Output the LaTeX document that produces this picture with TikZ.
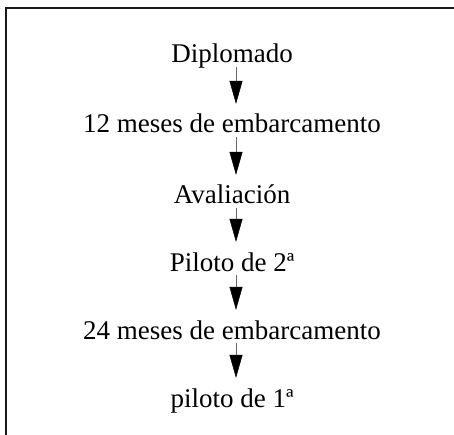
\documentclass[tikz,border=0pt]{standalone}
\usepackage{fontspec}
\setmainfont{Liberation Serif}
\usetikzlibrary{arrows.meta}
\tikzset{
  lbl/.style={inner sep=0pt, anchor=base, text height=18pt, text depth=4pt, font=\fontsize{27}{30}\selectfont},
  arr/.style={line width=0.5pt, draw=black!60, -{Triangle[length=23pt,width=13pt,fill=black,color=black]}, shorten >=11pt},
  frame/.style={line width=2pt, draw=black!90}
}
\begin{document}
\begin{tikzpicture}[x=1pt,y=-1pt]
\useasboundingbox (0,0) rectangle (454,435);
\draw[frame] (5.5,435) -- (5.5,8.5) -- (454,8.5);
\node[lbl] (d)  at (232,63)  {Diplomado};
\node[lbl] (m12) at (232,133) {12 meses de embarcamento};
\node[lbl] (av) at (232,204) {Avaliación};
\node[lbl] (p2) at (232,271) {Piloto de 2ª};
\node[lbl] (m24) at (232,339) {24 meses de embarcamento};
\node[lbl] (p1) at (232,407) {piloto de 1ª};
\foreach \a/\b in {d/m12, m12/av, av/p2, p2/m24, m24/p1}{
  \draw[arr] ([xshift=4pt]\a.south) -- ([xshift=4pt]\b.north);
}
\end{tikzpicture}
\end{document}
